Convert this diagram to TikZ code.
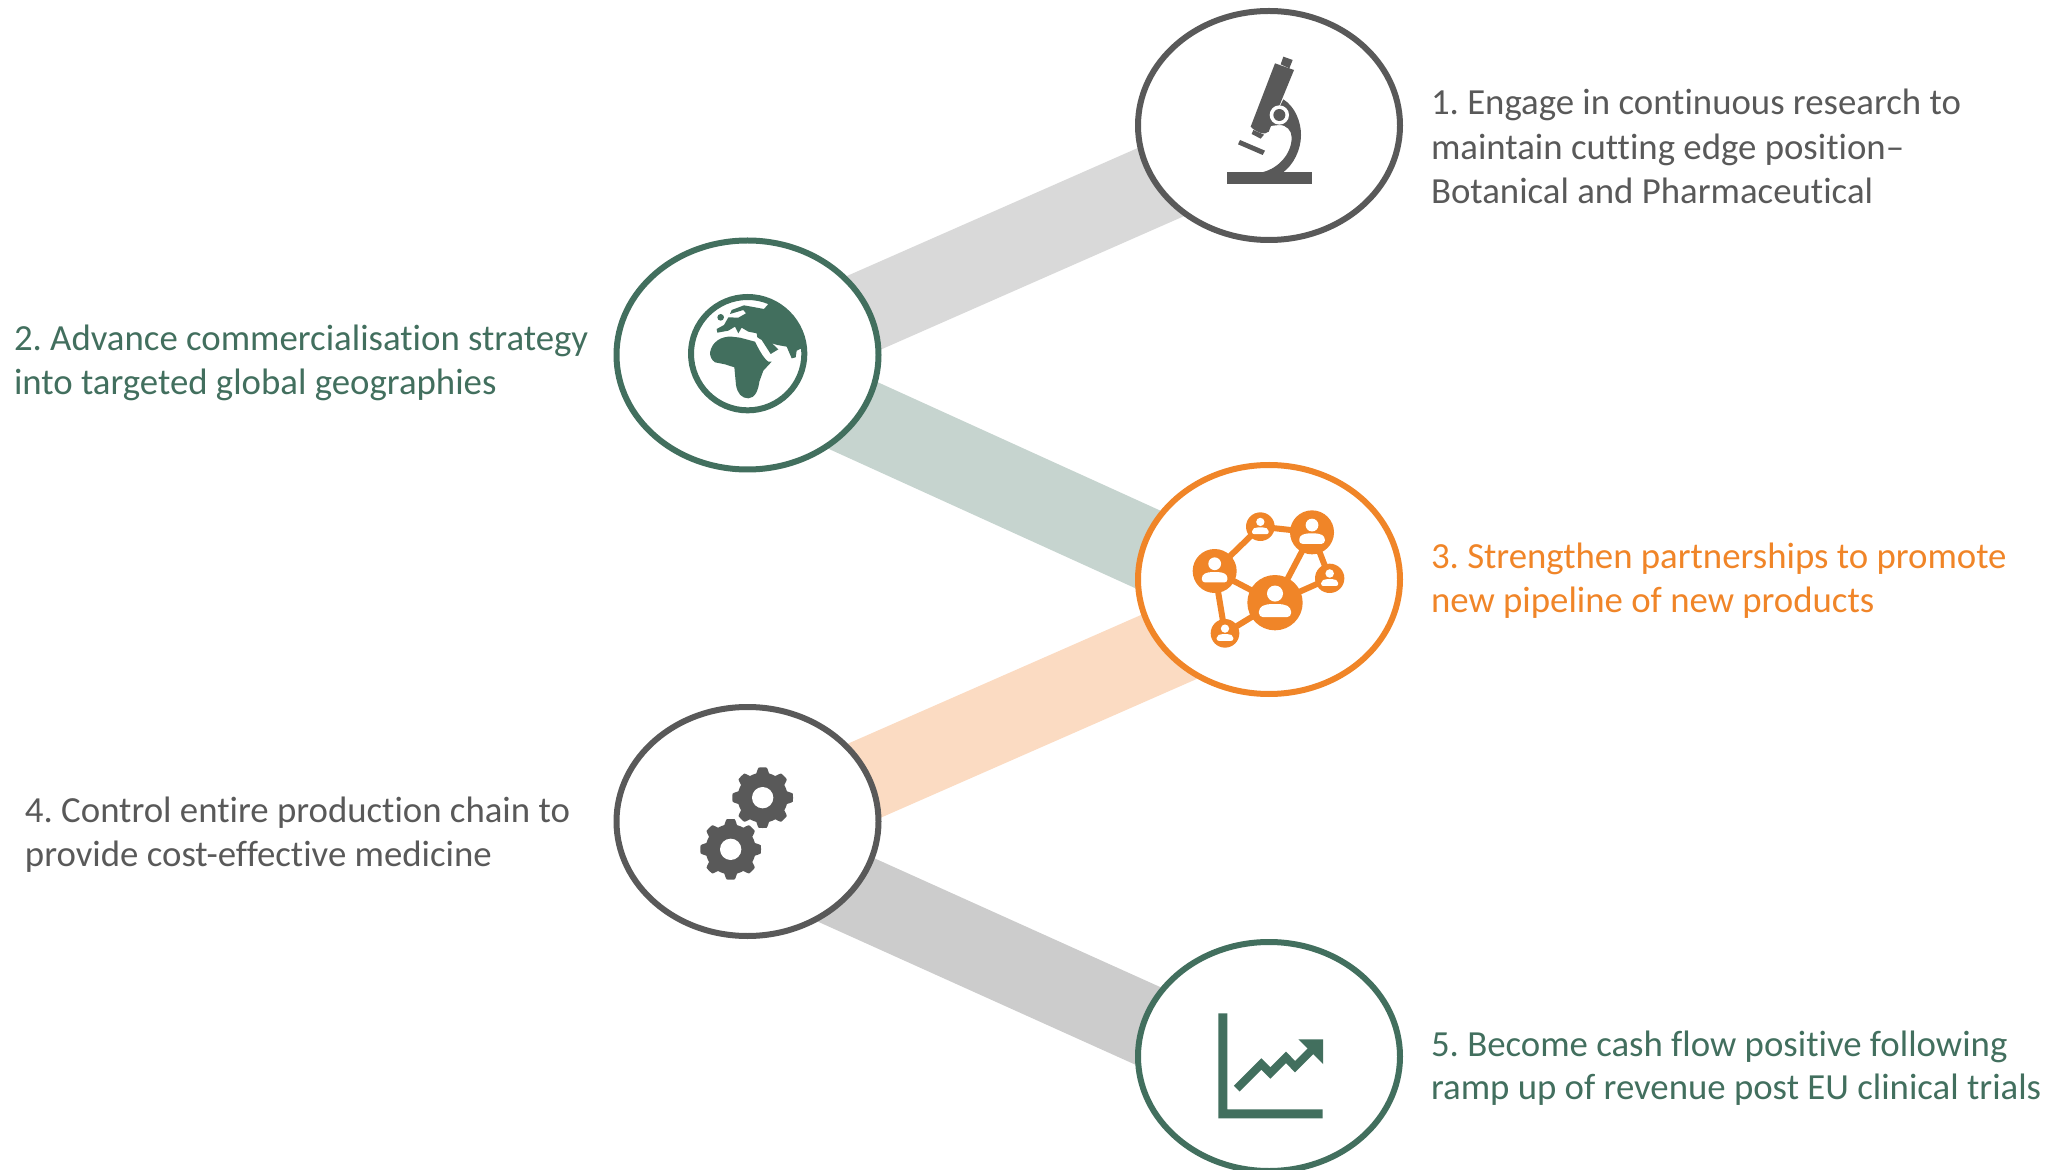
\documentclass[tikz,border=0pt]{standalone}
\usepackage{fontspec}
\setmainfont[Ligatures=NoCommon]{Carlito}
\usetikzlibrary{calc,shapes.geometric}
\definecolor{cgray}{HTML}{595959}
\definecolor{cgreen}{HTML}{426F5E}
\definecolor{corange}{HTML}{F08528}
\definecolor{bgrayA}{HTML}{D9D9D9}
\definecolor{bgreen}{HTML}{C6D4CF}
\definecolor{borange}{HTML}{FBDBC2}
\definecolor{bgrayB}{HTML}{CCCCCC}
\tikzset{
  every picture/.style={x=0.5pt,y=-0.5pt},
  band/.style={line width=40.5pt,line cap=butt},
  hub/.style={ellipse,draw,line width=3pt,fill=white,minimum width=131pt,minimum height=114.5pt,inner sep=0pt,outer sep=0pt},
  lab/.style={anchor=base west,font=\fontsize{18.4}{22}\selectfont\frenchspacing,inner sep=0pt,outer sep=0pt},
  zoomed/.style={x=0.16667pt,y=-0.16667pt},
}
\begin{document}
\begin{tikzpicture}
\useasboundingbox (0,0) rectangle (2067,1170);
\clip (0,0) rectangle (2067,1170);
\coordinate (c1) at (1269,125.5);
\coordinate (c2) at (747.5,355);
\coordinate (c3) at (1269,579.5);
\coordinate (c4) at (747.5,821.5);
\coordinate (c5) at (1269,1056.5);
% bands
\draw[band,bgrayA] ($(c2)+(0,9)$) -- ($(c1)+(0,9)$);
\draw[band,bgreen] ($(c2)+(0,12.5)$) -- ($(c3)+(0,25)$);
\draw[band,borange] ($(c4)+(0,10.5)$) -- ($(c3)+(0,23.5)$);
\draw[band,bgrayB] ($(c4)+(0,24)$) -- ($(c5)+(0,24)$);
% hubs
\node[hub,draw=cgray] (n1) at (c1) {};
\node[hub,draw=cgreen] (n2) at (c2) {};
\node[hub,draw=corange] (n3) at (c3) {};
\node[hub,draw=cgray] (n4) at (c4) {};
\node[hub,draw=cgreen] (n5) at (c5) {};
% microscope
\begin{scope}[shift={(1120,0)},zoomed]
\fill[cgray] (320,517) rectangle (575,552);
\fill[cgray] (360,420) -- (435,452) -- (428,465) -- (354,433) -- cycle;
\fill[cgray] (490,170) -- (518,180) -- (508,205) -- (482,193) -- cycle;
\fill[cgray] (465,190) -- (522,210) -- (446,395) .. controls (436,408) and (405,395) .. (392,380) -- cycle;
\fill[cgray] (395,402) -- (422,416) -- (432,404) -- (400,390) -- cycle;
\fill[cgray] (490,298) .. controls (525,320) and (543,365) .. (543,405) .. controls (543,450) and (520,495) .. (488,518) -- (420,518) .. controls (470,510) and (515,465) .. (515,412) .. controls (515,392) and (500,375) .. (478,375) -- (450,378) -- cycle;
\fill[white] (478,345) circle[radius=29];
\fill[cgray] (478,345) circle[radius=18];
\end{scope}
% globe
\begin{scope}[shift={(600,230)},zoomed]
\draw[cgreen,line width=3pt] (443,371) circle[radius=170];
\fill[cgreen] (330,368) .. controls (335,335) and (365,318) .. (395,320) -- (420,323) -- (465,335) .. controls (475,355) and (490,385) .. (505,395) -- (515,395) -- (490,422) -- (478,455) .. controls (475,480) and (465,505) .. (445,505) .. controls (425,505) and (412,490) .. (408,465) -- (403,412) -- (375,403) -- (345,397) .. controls (335,390) and (330,380) .. (330,368) -- cycle;
\begin{scope}
\clip (443,371) circle[radius=165];
\fill[cgreen] (505,222) -- (492,237) -- (465,232) -- (432,226) -- (395,240) -- (390,252) -- (430,240) -- (438,250) -- (415,263) -- (385,262) -- (372,285) -- (350,297) -- (352,308) -- (385,302) -- (405,290) -- (415,310) -- (425,293) -- (445,305) -- (470,310) -- (472,322) -- (485,330) -- (512,372) -- (535,358) -- (516,340) -- (532,345) -- (560,350) -- (575,385) -- (587,382) -- (590,362) -- (605,355) -- (640,340) -- (640,180) -- cycle;
\end{scope}
\fill[cgreen] (362,262) circle[radius=10];
\end{scope}
% network
\begin{scope}[shift={(1120,450)},zoomed]
\coordinate (pa) at (284,363);
\coordinate (pb) at (421,230);
\coordinate (pc) at (576,247);
\coordinate (pd) at (629,385);
\coordinate (pe) at (465,458);
\coordinate (pf) at (315,550);
\draw[corange,line width=3pt] (pa)--(pb) (pb)--(pc) (pc)--(pe) (pc)--(pd) (pd)--(pe) (pe)--(pa) (pa)--(pf) (pf)--(pe);
\foreach \p/\r in {pa/66,pb/43,pc/66,pd/44,pe/83,pf/43}{
  \fill[corange] (\p) circle[radius=\r];
  \fill[white] ($(\p)+(0,{-0.33*\r})$) circle[radius={0.29*\r}];
  \fill[white,rounded corners={0.14*\r*0.16667pt}] ($(\p)+({-0.58*\r},{0.52*\r})$) -- ($(\p)+({-0.58*\r},{0.18*\r})$) -- ($(\p)+({-0.3*\r},{0.05*\r})$) -- ($(\p)+({0.3*\r},{0.05*\r})$) -- ($(\p)+({0.58*\r},{0.18*\r})$) -- ($(\p)+({0.58*\r},{0.52*\r})$) -- cycle;
}
\end{scope}
% gears
\begin{scope}[shift={(600,700)},zoomed]
\foreach \cx/\cy in {488/293,392/448}{
  \fill[cgray,shift={(\cx,\cy)}] plot[domain=0:360,samples=241] (\x:{83+8*max(-1,min(1,2.2*cos(8*\x)))}) -- cycle;
  \fill[white] (\cx,\cy) circle[radius=32];
}
\end{scope}
% chart
\begin{scope}[shift={(1120,930)},zoomed]
\fill[cgreen] (295,250) -- (322,250) -- (322,538) -- (608,538) -- (608,565) -- (295,565) -- cycle;
\draw[cgreen,line width=4pt,miter limit=5] (350,476) -- (424,402) -- (451,429) -- (498,382) -- (525,410) -- (575,360);
\fill[cgreen] (535,328) -- (609,328) -- (609,402) -- cycle;
\end{scope}
% labels
\node[lab,text=cgray] (t1a) at (1431,115) {1. Engage in continuous research to};
\node[lab,text=cgray] (t1b) at (1431,159.5) {maintain cutting edge position–};
\node[lab,text=cgray] (t1c) at (1431,204) {Botanical and Pharmaceutical};
\node[lab,text=cgreen] (t2a) at (14,351) {2. Advance commercialisation strategy};
\node[lab,text=cgreen] (t2b) at (14,395) {into targeted global geographies};
\node[lab,text=corange] (t3a) at (1431,568.5) {3. Strengthen partnerships to promote};
\node[lab,text=corange] (t3b) at (1431,613) {new pipeline of new products};
\node[lab,text=cgray] (t4a) at (25,822) {4. Control entire production chain to};
\node[lab,text=cgray] (t4b) at (25,866) {provide cost-effective medicine};
\node[lab,text=cgreen] (t5a) at (1431,1056) {5. Become cash flow positive following};
\node[lab,text=cgreen] (t5b) at (1431,1099.5) {ramp up of revenue post EU clinical trials};
\end{tikzpicture}
\end{document}
